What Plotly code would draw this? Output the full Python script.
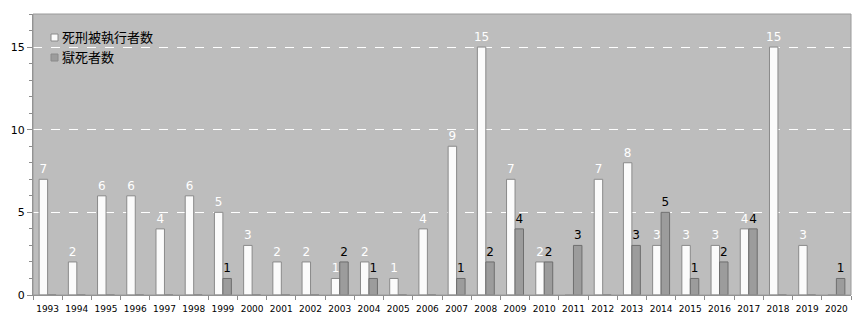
import plotly.graph_objects as go

years = [str(y) for y in range(1993, 2021)]
executions = [7, 2, 6, 6, 4, 6, 5, 3, 2, 2, 1, 2, 1, 4, 9, 15, 7, 2, 0, 7, 8, 3, 3, 3, 4, 15, 3, 0]
prison_deaths = [0, 0, 0, 0, 0, 0, 1, 0, 0, 0, 2, 1, 0, 0, 1, 2, 4, 2, 3, 0, 3, 5, 1, 2, 4, 0, 0, 1]
series_names = ["死刑被執行者数", "獄死者数"]
series_colors = ["#fbfbfb", "#9c9c9c"]

def lbl(vals):
    return [str(v) if v > 0 else "" for v in vals]

fig = go.Figure()
fig.add_trace(go.Bar(
    x=years, y=executions, name=series_names[0],
    marker=dict(color=series_colors[0], line=dict(color="#8a8a8a", width=1)),
    text=lbl(executions), textposition="outside", constraintext="none",
    textfont=dict(color="white", size=12, family="DejaVu Sans"),
    cliponaxis=False, showlegend=False,
))
fig.add_trace(go.Bar(
    x=years, y=prison_deaths, name=series_names[1],
    marker=dict(color=series_colors[1], line=dict(color="#6e6e6e", width=1)),
    text=lbl(prison_deaths), textposition="outside", constraintext="none",
    textfont=dict(color="black", size=12, family="DejaVu Sans"),
    cliponaxis=False, showlegend=False,
))

W, H = 864, 324
L, R, T, B = 33, 13, 14, 29
pw, ph = W - L - R, H - T - B

def px(x):
    return (x - L) / pw

def py(y):
    return (H - B - y) / ph

# legend drawn manually (small squares + text)
for i, (name, col) in enumerate(zip(series_names, series_colors)):
    yc = 37 + 20 * i
    fig.add_shape(type="rect", xref="paper", yref="paper",
                  x0=px(51), x1=px(58), y0=py(yc + 4), y1=py(yc - 3),
                  fillcolor=col, line=dict(color="#8a8a8a", width=1))
    fig.add_annotation(text=name, xref="paper", yref="paper",
                       x=px(60), y=py(yc), xanchor="left", yanchor="middle",
                       showarrow=False,
                       font=dict(size=13, family="Noto Sans CJK JP", color="black"))

fig.update_layout(
    width=W, height=H,
    margin=dict(l=L, r=R, t=T, b=B, autoexpand=False),
    paper_bgcolor="white",
    plot_bgcolor="#bdbdbd",
    barmode="group",
    bargap=0.42,
    bargroupgap=0.0,
    font=dict(family="Noto Sans CJK JP", color="black"),
    showlegend=False,
)
fig.update_xaxes(
    type="category",
    showline=True, linecolor="#8c8c8c", mirror=False,
    ticks="outside", tickson="boundaries", ticklen=4, tickcolor="#8c8c8c",
    tickangle=0, ticklabelstandoff=5,
    tickfont=dict(size=9, family="DejaVu Sans", color="black"),
    showgrid=False, automargin=False,
)
fig.update_yaxes(
    range=[0, 17],
    tickvals=[0, 5, 10, 15],
    showline=True, linecolor="#8c8c8c",
    ticks="outside", ticklen=5, tickcolor="#8c8c8c",
    minor=dict(dtick=1, ticks="outside", ticklen=3, tickcolor="#8c8c8c", showgrid=False),
    tickfont=dict(size=11, family="DejaVu Sans", color="black"),
    showgrid=True, gridcolor="white", griddash="dash", gridwidth=1,
    zeroline=False, automargin=False,
)
fig.add_shape(type="rect", xref="paper", yref="paper", x0=0, x1=1, y0=0, y1=1,
              line=dict(color="#9a9a9a", width=1), layer="above")

fig.write_html("out.html")
